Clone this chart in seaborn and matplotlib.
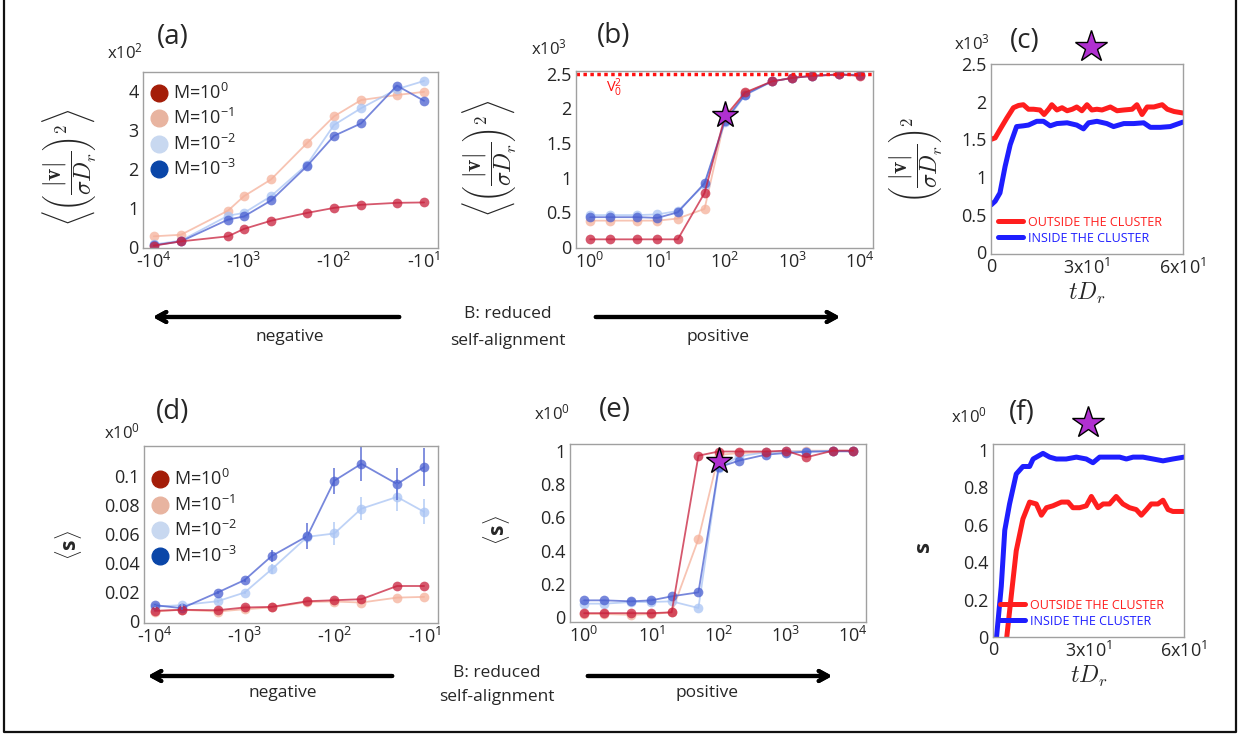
import numpy as np
import pandas as pd
import matplotlib.pyplot as plt
from matplotlib.lines import Line2D
import seaborn as sns

W, H = 1242, 738

# ---- data: negative B (panels a, d) ----
B_neg_a = [-10000, -5000, -1500, -1000, -500, -200, -100, -50, -20, -10]
B_neg_d = [-10000, -5000, -2000, -1000, -500, -200, -100, -50, -20, -10]
M_keys = ['0', '-1', '-2', '-3']

# (a) <(|v|/sigma D_r)^2>, units of 10^2
va_m0 = [0.04, 0.15, 0.28, 0.47, 0.68, 0.88, 1.01, 1.09, 1.14, 1.15]
va_m1 = [0.28, 0.32, 0.94, 1.31, 1.74, 2.67, 3.36, 3.78, 3.91, 3.99]
va_m2 = [0.07, 0.17, 0.81, 0.88, 1.31, 2.12, 3.14, 3.57, 4.06, 4.27]
va_m3 = [0.05, 0.15, 0.71, 0.79, 1.20, 2.08, 2.86, 3.18, 4.15, 3.76]

# (d) <s>
sd_m0 = [0.0069, 0.0076, 0.0073, 0.0092, 0.0096, 0.0135, 0.0142, 0.0149, 0.024, 0.024]
sd_m1 = [0.0064, 0.0076, 0.0064, 0.0080, 0.0092, 0.0130, 0.0133, 0.0126, 0.016, 0.0165]
sd_m2 = [0.0098, 0.0108, 0.0135, 0.0195, 0.0355, 0.0579, 0.0602, 0.0773, 0.0854, 0.0751]
sd_m3 = [0.0108, 0.0087, 0.0195, 0.0281, 0.0446, 0.0584, 0.0966, 0.1082, 0.0943, 0.1060]
sd_err2 = [0.001, 0.001, 0.001, 0.001, 0.0035, 0.004, 0.0077, 0.008, 0.0094, 0.0086]
sd_err3 = [0.001, 0.001, 0.001, 0.001, 0.004, 0.009, 0.009, 0.012, 0.011, 0.013]

# ---- data: positive B (panels b, e) ----
B_pos = [1, 2, 5, 10, 20, 50, 100, 200, 500, 1000, 2000, 5000, 10000]
vb_m0 = [0.11, 0.11, 0.11, 0.11, 0.11, 0.78, 1.88, 2.23, 2.39, 2.44, 2.47, 2.49, 2.47]
vb_m1 = [0.38, 0.38, 0.38, 0.38, 0.41, 0.55, 1.85, 2.22, 2.39, 2.44, 2.47, 2.49, 2.48]
vb_m2 = [0.46, 0.46, 0.46, 0.47, 0.52, 0.90, 1.80, 2.19, 2.39, 2.44, 2.47, 2.49, 2.49]
vb_m3 = [0.43, 0.43, 0.43, 0.42, 0.50, 0.92, 1.82, 2.20, 2.39, 2.44, 2.47, 2.49, 2.48]

se_m0 = [0.025, 0.025, 0.025, 0.025, 0.03, 0.97, 0.995, 0.995, 0.995, 1.0, 0.96, 1.0, 1.0]
se_m1 = [0.02, 0.02, 0.015, 0.02, 0.03, 0.47, 0.975, 0.985, 0.99, 0.995, 1.0, 1.0, 1.0]
se_m2 = [0.082, 0.082, 0.092, 0.092, 0.096, 0.056, 0.894, 0.966, 0.99, 0.996, 0.994, 1.0, 0.996]
se_m3 = [0.102, 0.102, 0.096, 0.102, 0.126, 0.15, 0.90, 0.94, 0.976, 0.986, 0.994, 0.996, 0.996]

star_B = 100
star_v = 1.9
star_s = 0.94
v0_sq = 2.5

# ---- data: time series (panels c, f) ----
t_c_out = [0, 1.3, 2.8, 4.9, 7.0, 8.6, 10.1, 11.7, 13.3, 15.3, 16.6, 18.0, 19.0, 20.6, 22.2, 23.8,
           25.4, 26.8, 28.4, 30.0, 31.5, 33.1, 34.7, 37.3, 39.4, 41.5, 44.1, 45.6, 47.2, 48.8,
           50.9, 53.5, 55.1, 57.2, 60]
v_c_out = [1.50, 1.52, 1.63, 1.78, 1.92, 1.95, 1.96, 1.90, 1.90, 1.89, 1.83, 1.90, 1.96, 1.89, 1.92, 1.88,
           1.90, 1.93, 1.88, 1.96, 1.89, 1.90, 1.89, 1.93, 1.88, 1.89, 1.90, 1.96, 1.83, 1.93,
           1.93, 1.96, 1.90, 1.87, 1.85]
t_c_in = [0, 1.3, 2.8, 4.4, 6.0, 8.0, 10.1, 11.7, 14.3, 16.4, 18.5, 20.6, 23.8, 26.8, 28.9, 30.5,
          33.1, 36.2, 38.3, 41.5, 44.6, 47.7, 49.8, 52.9, 56.0, 60]
v_c_in = [0.63, 0.68, 0.79, 1.14, 1.43, 1.67, 1.68, 1.69, 1.74, 1.74, 1.68, 1.71, 1.72, 1.69, 1.64, 1.72,
          1.74, 1.71, 1.67, 1.71, 1.71, 1.72, 1.66, 1.66, 1.67, 1.73]

t_f_in = [1.0, 2.6, 3.7, 5.2, 7.3, 9.4, 11.5, 12.6, 15.7, 17.8, 19.9, 23.0, 26.2, 29.3, 31.4, 33.5,
          36.6, 39.8, 41.9, 44.0, 47.1, 50.3, 53.4, 56.5, 60]
s_f_in = [-0.02, 0.27, 0.57, 0.71, 0.87, 0.91, 0.91, 0.95, 0.98, 0.96, 0.95, 0.95, 0.96, 0.95, 0.93, 0.96,
          0.96, 0.96, 0.95, 0.96, 0.96, 0.95, 0.94, 0.95, 0.96]
t_f_out = [4.2, 5.8, 7.3, 9.4, 11.5, 13.6, 15.2, 16.8, 18.8, 21.5, 23.6, 25.1, 27.2, 29.3, 30.9, 33.0,
           34.6, 36.6, 38.7, 40.8, 42.9, 45.0, 46.6, 48.2, 49.7, 51.8, 53.4, 55.0, 56.5, 60]
s_f_out = [-0.02, 0.23, 0.46, 0.63, 0.72, 0.71, 0.65, 0.69, 0.70, 0.72, 0.72, 0.69, 0.69, 0.70, 0.75, 0.69,
           0.71, 0.71, 0.75, 0.71, 0.69, 0.68, 0.65, 0.68, 0.71, 0.71, 0.73, 0.68, 0.67, 0.67]

# ---- colours ----
line_pal = {'0': '#c8203c', '-1': '#f5b09a', '-2': '#a9c4f4', '-3': '#4a5fd0'}
leg_pal = {'0': '#a41d08', '-1': '#e8b4a0', '-2': '#c8d8f0', '-3': '#0a46a8'}
draw_order = ['-1', '-2', '-3', '0']
RED, BLUE, STAR = '#ff1e1e', '#1e1eff', '#b030d0'

sns.set_theme(style='white')
plt.rcParams['font.family'] = ['Open Sans', 'DejaVu Sans']
plt.rcParams['mathtext.fontset'] = 'cm'

fig = plt.figure(figsize=(W / 100, H / 100), dpi=100)


def fx(x):
    return x / W


def fy(y):
    return 1 - y / H


def axes_px(x0, y0, x1, y1):
    return fig.add_axes([fx(x0), fy(y1), (x1 - x0) / W, (y1 - y0) / H])


def style(ax):
    for s in ax.spines.values():
        s.set_color('#a0a0a0')
        s.set_linewidth(1)
    ax.tick_params(axis='both', labelsize=13, direction='in', length=3.5,
                   color='#555555', width=1, pad=3)
    ax.minorticks_off()


def series_plot(ax, x, series, neg=False):
    rows = []
    for k, vals in series.items():
        for xi, v in zip(x, vals):
            rows.append({'B': -xi if neg else xi, 'val': v, 'M': k})
    df = pd.DataFrame(rows)
    sns.lineplot(data=df, x='B', y='val', hue='M', hue_order=draw_order,
                 palette=line_pal, marker='o', markersize=7, markeredgewidth=0,
                 lw=1.3, alpha=0.75, sort=False, legend=False, ax=ax)
    ax.set_xscale('log')


def m_legend(ax, y_anchor):
    handles = [Line2D([], [], marker='o', ls='none', markersize=12, color=leg_pal[k],
                      label='M=$\\mathregular{10^{%s}}$' % k) for k in M_keys]
    ax.legend(handles=handles, loc='upper left', bbox_to_anchor=(-0.02, y_anchor),
              frameon=False, fontsize=13, handletextpad=0.2, labelspacing=0.3,
              borderaxespad=0.2, handlelength=1.2)


def cluster_legend(ax):
    hl = [Line2D([], [], color=RED, lw=3.6), Line2D([], [], color=BLUE, lw=3.6)]
    leg = ax.legend(hl, ['OUTSIDE THE CLUSTER', 'INSIDE THE CLUSTER'], loc='lower left',
                    bbox_to_anchor=(-0.02, -0.01), frameon=False, fontsize=9,
                    handlelength=2.0, handletextpad=0.4, labelspacing=0.25)
    for txt, c in zip(leg.get_texts(), [RED, BLUE]):
        txt.set_color(c)


neg_ticks = [10000, 1000, 100, 10]
neg_labels = ['-$\\mathregular{10^{%d}}$' % e for e in [4, 3, 2, 1]]
pos_ticks = [1, 10, 100, 1000, 10000]
pos_labels = ['$\\mathregular{10^{%d}}$' % e for e in [0, 1, 2, 3, 4]]

lab_v = r'$\left\langle\left(\dfrac{|\mathbf{v}|}{\sigma D_r}\right)^{2}\right\rangle$'
lab_vc = r'$\left(\dfrac{|\mathbf{v}|}{\sigma D_r}\right)^{2}$'

# ---------------- (a) ----------------
ax = axes_px(143, 72, 438, 248)
series_plot(ax, B_neg_a, {'0': va_m0, '-1': va_m1, '-2': va_m2, '-3': va_m3}, neg=True)
ax.set_xlim(13200, 7)
ax.set_ylim(-0.02, 4.5)
ax.set_xticks(neg_ticks, neg_labels)
ax.set_yticks([0, 1, 2, 3, 4], ['0', '1', '2', '3', '4'])
style(ax)
ax.set_xlabel('')
ax.set_ylabel('')
m_legend(ax, 1.0)

# ---------------- (b) ----------------
ax = axes_px(576, 71, 873, 248)
series_plot(ax, B_pos, {'0': vb_m0, '-1': vb_m1, '-2': vb_m2, '-3': vb_m3})
ax.axhline(v0_sq, color='#ff1010', ls=(0, (1, 1)), lw=2.5)
ax.plot([star_B], [star_v], marker='*', markersize=20, color=STAR, mec='black', mew=1, zorder=5)
ax.text(0.1, 0.88, '$\\mathregular{V_0^2}$', color='#ff1010', fontsize=10.5,
        transform=ax.transAxes)
ax.set_xlim(10 ** -0.21, 10 ** 4.2)
ax.set_ylim(-0.015, 2.54)
ax.set_xticks(pos_ticks, pos_labels)
ax.set_yticks([0, 0.5, 1, 1.5, 2, 2.5], ['0', '0.5', '1', '1.5', '2', '2.5'])
style(ax)
ax.set_xlabel('')
ax.set_ylabel('')

# ---------------- (c) ----------------
ax = axes_px(991, 64, 1183, 254)
sns.lineplot(x=t_c_out, y=v_c_out, color=RED, lw=3.6, ax=ax, sort=False)
sns.lineplot(x=t_c_in, y=v_c_in, color=BLUE, lw=3.6, ax=ax, sort=False)
ax.set_xlim(0, 60)
ax.set_ylim(-0.02, 2.5)
ax.set_xticks([0, 30, 60], ['0', '3x$\\mathregular{10^{1}}$', '6x$\\mathregular{10^{1}}$'])
ax.set_yticks([0, 0.5, 1, 1.5, 2, 2.5], ['0', '0.5', '1', '1.5', '2', '2.5'])
style(ax)
ax.set_xlabel('$tD_r$', fontsize=17, labelpad=2)
ax.set_ylabel('')
cluster_legend(ax)

# ---------------- (d) ----------------
ax = axes_px(144, 446, 438, 623)
series_plot(ax, B_neg_d, {'0': sd_m0, '-1': sd_m1, '-2': sd_m2, '-3': sd_m3}, neg=True)
ax.errorbar([-b for b in B_neg_d], sd_m2, yerr=sd_err2, fmt='none', ecolor=line_pal['-2'],
            elinewidth=1.3, alpha=0.75)
ax.errorbar([-b for b in B_neg_d], sd_m3, yerr=sd_err3, fmt='none', ecolor=line_pal['-3'],
            elinewidth=1.3, alpha=0.75)
ax.set_xlim(13200, 7)
ax.set_ylim(-0.0015, 0.1205)
ax.set_xticks(neg_ticks, neg_labels)
ax.set_yticks([0, 0.02, 0.04, 0.06, 0.08, 0.1], ['0', '0.02', '0.04', '0.06', '0.08', '0.1'])
style(ax)
ax.set_xlabel('')
ax.set_ylabel('')
m_legend(ax, 0.93)

# ---------------- (e) ----------------
ax = axes_px(570, 444, 866, 622)
series_plot(ax, B_pos, {'0': se_m0, '-1': se_m1, '-2': se_m2, '-3': se_m3})
ax.plot([star_B], [star_s], marker='*', markersize=20, color=STAR, mec='black', mew=1, zorder=5)
ax.set_xlim(10 ** -0.21, 10 ** 4.19)
ax.set_ylim(-0.028, 1.04)
ax.set_xticks(pos_ticks, pos_labels)
ax.set_yticks([0, 0.2, 0.4, 0.6, 0.8, 1], ['0', '0.2', '0.4', '0.6', '0.8', '1'])
style(ax)
ax.set_xlabel('')
ax.set_ylabel('')

# ---------------- (f) ----------------
ax = axes_px(993, 444, 1184, 637)
sns.lineplot(x=t_f_out, y=s_f_out, color=RED, lw=3.6, ax=ax, sort=False)
sns.lineplot(x=t_f_in, y=s_f_in, color=BLUE, lw=3.6, ax=ax, sort=False)
ax.set_xlim(0, 60)
ax.set_ylim(0, 1.03)
ax.set_xticks([0, 30, 60], ['0', '3x$\\mathregular{10^{1}}$', '6x$\\mathregular{10^{1}}$'])
ax.set_yticks([0, 0.2, 0.4, 0.6, 0.8, 1], ['0', '0.2', '0.4', '0.6', '0.8', '1'])
style(ax)
ax.set_xlabel('$tD_r$', fontsize=17, labelpad=2)
ax.set_ylabel('')
cluster_legend(ax)

# ---------------- figure texts ----------------
for lab, x, y in [('(a)', 173, 37), ('(b)', 614, 36), ('(c)', 1025, 41),
                  ('(d)', 173, 412), ('(e)', 615, 410), ('(f)', 1022, 413)]:
    fig.text(fx(x), fy(y), lab, fontsize=20, ha='center', va='center')

for e, x, y in [(2, 143, 52), (3, 567, 48), (3, 990, 43), (0, 140, 432), (0, 570, 413), (0, 987, 416)]:
    fig.text(fx(x), fy(y), 'x$\\mathregular{10^{%d}}$' % e, fontsize=12, ha='right', va='center')

fig.text(fx(70), fy(167), lab_v, fontsize=17, rotation=90, ha='center', va='center')
fig.text(fx(490), fy(158), lab_v, fontsize=17, rotation=90, ha='center', va='center')
fig.text(fx(917), fy(160), lab_vc, fontsize=17, rotation=90, ha='center', va='center')
fig.text(fx(68), fy(545), r'$\langle$s$\rangle$', fontsize=15, fontweight='bold', rotation=90,
         ha='center', va='center')
fig.text(fx(497), fy(530), r'$\langle$s$\rangle$', fontsize=15, fontweight='bold', rotation=90,
         ha='center', va='center')
fig.text(fx(924), fy(547), 's', fontsize=16, fontweight='bold', rotation=90, ha='center', va='center')

# stars above the time-series panels
for x, y in [(1091, 47), (1088, 423)]:
    fig.add_artist(Line2D([fx(x)], [fy(y)], marker='*', markersize=24, color=STAR,
                          mec='black', mew=1, transform=fig.transFigure))

# arrows and B label between rows
arrow = dict(arrowstyle='->,head_length=0.55,head_width=0.3', lw=3, color='black')
for yt, xl0, xl1, xr0, xr1, yl, xc, xn, xp in [(317, 150, 402, 593, 843, 337, 508, 290, 718),
                                               (676, 145, 395, 585, 835, 693, 497, 283, 707)]:
    fig.add_artist(plt.annotate('', xy=(fx(xl0), fy(yt)), xytext=(fx(xl1), fy(yt)),
                                xycoords='figure fraction', textcoords='figure fraction',
                                arrowprops=arrow))
    fig.add_artist(plt.annotate('', xy=(fx(xr1), fy(yt)), xytext=(fx(xr0), fy(yt)),
                                xycoords='figure fraction', textcoords='figure fraction',
                                arrowprops=arrow))
    fig.text(fx(xc), fy(yt - 3), 'B: reduced', fontsize=12.5, ha='center', va='center')
    fig.text(fx(xc), fy(yl + 4), 'self-alignment', fontsize=12.5, ha='center', va='center')
    fig.text(fx(xn), fy(yl), 'negative', fontsize=12.5, ha='center', va='center')
    fig.text(fx(xp), fy(yl), 'positive', fontsize=12.5, ha='center', va='center')

# outer frame
fig.add_artist(Line2D([fx(4), fx(4), fx(1236), fx(1236)], [fy(0), fy(732), fy(732), fy(0)],
                      color='#111111', lw=1.6, transform=fig.transFigure))

fig.savefig('out.png', dpi=100)
